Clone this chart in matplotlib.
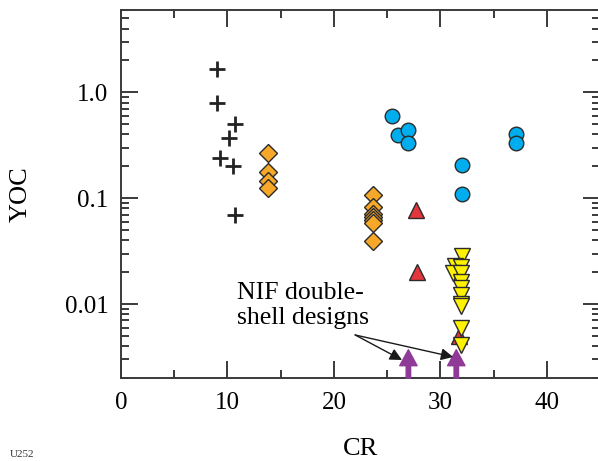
import numpy as np
import matplotlib
matplotlib.use("Agg")
import matplotlib.pyplot as plt
from matplotlib.ticker import FixedLocator, FixedFormatter, LogLocator, NullFormatter

plt.rcParams["font.family"] = ["Liberation Serif", "DejaVu Serif"]

# data (CR, YOC)
plus_cr = [9.0, 9.0, 10.7, 10.1, 9.3, 10.5, 10.7]
plus_yoc = [1.68, 0.80, 0.50, 0.37, 0.238, 0.20, 0.069]

diam_cr = [13.8, 13.8, 13.8, 13.8, 23.7, 23.7, 23.7, 23.7, 23.7, 23.7, 23.7]
diam_yoc = [0.266, 0.176, 0.145, 0.124, 0.107, 0.082, 0.071, 0.066, 0.062, 0.058, 0.039]

circ_cr = [25.5, 26.0, 27.0, 27.0, 32.0, 32.0, 37.1, 37.1]
circ_yoc = [0.594, 0.393, 0.438, 0.330, 0.205, 0.109, 0.40, 0.330]

red_cr = [27.7, 27.8, 31.8]
red_yoc = [0.0766, 0.0202, 0.0050]

yel_cr = [32.0, 31.4, 31.9, 31.2, 31.9, 31.9, 31.9, 31.9, 31.9, 31.9, 31.9, 31.9]
yel_yoc = [0.0284, 0.0228, 0.0223, 0.0196, 0.0196, 0.0162, 0.0141, 0.0122,
           0.0101, 0.0096, 0.0059, 0.0041]

nif_cr = [27.0, 31.5]

fig = plt.figure(figsize=(5.98, 4.61), dpi=100)
ax = fig.add_axes([121 / 598, 83 / 461, 479 / 598, 368 / 461])

ec = "#2b2b2b"
ax.plot(plus_cr, plus_yoc, ls="none", marker="+", ms=11.5, mew=2.0, color="#222222")
ax.plot(diam_cr, diam_yoc, ls="none", marker="D", ms=9.5, mfc="#F7A829", mec=ec, mew=1.0)
ax.plot(circ_cr, circ_yoc, ls="none", marker="o", ms=10.5, mfc="#00AEEF", mec=ec, mew=1.0)
ax.plot(red_cr, red_yoc, ls="none", marker="^", ms=11.5, mfc="#E3373D", mec=ec, mew=1.0)
ax.plot(yel_cr, yel_yoc, ls="none", marker="v", ms=11.5, mfc="#FFF200", mec=ec, mew=1.0)

ax.set_yscale("log")
ax.set_xlim(0, 45)
ax.set_ylim(0.002, 6)

# purple arrows for the NIF designs
for x in nif_cr:
    ax.annotate("", xy=(x, 0.0037), xytext=(x, 0.002),
                arrowprops=dict(width=3.2, headwidth=12.5, headlength=11.5,
                                color="#8E3A96", shrink=0))

ax.text(10.9, 0.0097, "NIF double-\nshell designs", fontsize=18.5,
        va="center", ha="left", linespacing=1.15)
for x, y in [(26.4, 0.00296), (31.2, 0.00316)]:
    ax.annotate("", xy=(x, y), xytext=(22.0, 0.0051),
                arrowprops=dict(arrowstyle="-|>", color="#1a1a1a", lw=1.0,
                                mutation_scale=18, shrinkA=0, shrinkB=0))

ax.xaxis.set_major_locator(FixedLocator([0, 10, 20, 30, 40]))
ax.xaxis.set_minor_locator(FixedLocator([5, 15, 25, 35]))
ax.yaxis.set_major_locator(FixedLocator([0.01, 0.1, 1.0]))
ax.yaxis.set_major_formatter(FixedFormatter(["0.01", "0.1", "1.0"]))
ax.yaxis.set_minor_locator(LogLocator(base=10, subs=np.arange(2, 10)))
ax.yaxis.set_minor_formatter(NullFormatter())

tc = "#3a3a3a"
ax.tick_params(which="both", direction="in", top=True, right=True,
               color=tc, width=1.4, labelsize=18)
ax.tick_params(which="major", length=12)
ax.tick_params(which="minor", length=6)
ax.tick_params(axis="x", pad=10)
ax.tick_params(axis="y", pad=9)

for s in ax.spines.values():
    s.set_color(tc)
    s.set_linewidth(1.4)

ax.set_xlabel("CR", fontsize=19)
ax.set_ylabel("YOC", fontsize=19)
ax.xaxis.set_label_coords(0.5, -0.164)
ax.yaxis.set_label_coords(-0.186, 0.5)

fig.text(0.017, 0.004, "U252", fontsize=8, va="bottom", ha="left", color="#333333")

fig.savefig("out.png", dpi=100)
